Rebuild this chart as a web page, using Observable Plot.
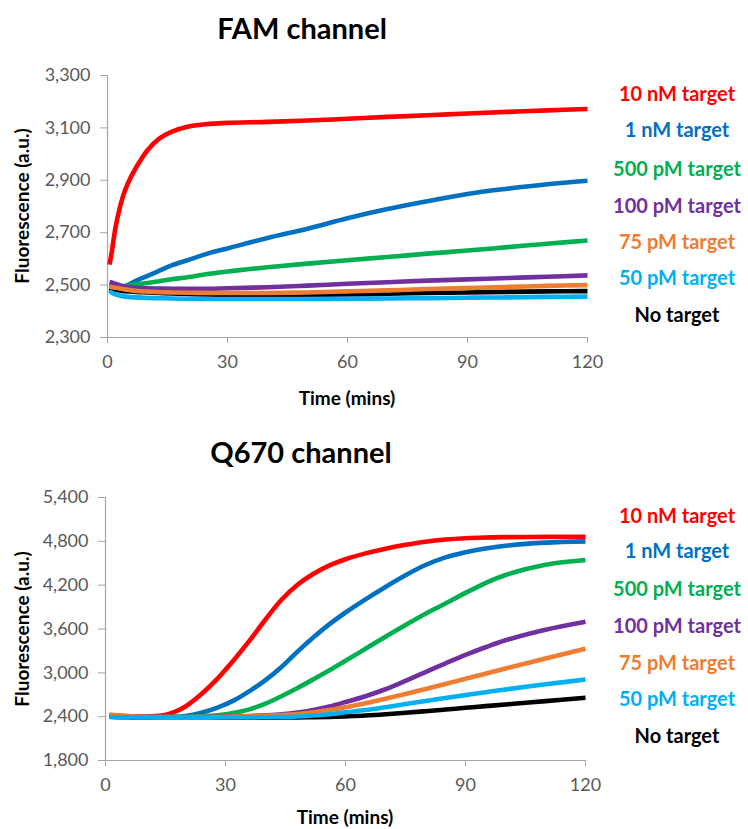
<!DOCTYPE html>
<html>
<head>
<meta charset="utf-8">
<script src="https://cdn.jsdelivr.net/npm/d3@7"></script>
<script src="https://cdn.jsdelivr.net/npm/@observablehq/plot@0.6"></script>
<style>
  html, body { margin: 0; padding: 0; background: #fff; }
  #page { position: relative; width: 748px; height: 829px; font-family: Lato, "Open Sans", sans-serif; overflow: hidden; }
  .abs { position: absolute; white-space: nowrap; line-height: 1; transform: translate(-50%, -50%); }
  .title { font-size: 29px; font-weight: bold; color: #000; }
  .axlab { font-size: 19px; font-weight: bold; color: #000; }
  .ylab { transform: translate(-50%, -50%) rotate(-90deg); }
  .leg { font-size: 20px; font-weight: bold; }
  .chart { position: absolute; left: 0; }
</style>
</head>
<body>
<div id="page"></div>
<script>
// ---------- shared ----------
const seriesNames = ["10 nM target", "1 nM target", "500 pM target", "100 pM target", "75 pM target", "50 pM target", "No target"];
const seriesColors = ["#ff0000", "#0070c0", "#00b050", "#7030a0", "#ed7d31", "#00b0f0", "#000000"];
const xTicks = [0, 30, 60, 90, 120];

// ---------- FAM channel (top) ----------
const famYTicks = [2300, 2500, 2700, 2900, 3100, 3300];
const famTimes = [0.5, 1, 2, 3, 4, 5, 7, 10, 13, 16, 20, 25, 30, 40, 50, 60, 70, 80, 90, 100, 110, 120];
const fam10nM  = [2578, 2620, 2720, 2790, 2845, 2885, 2945, 3015, 3060, 3085, 3104, 3115, 3119, 3123, 3128, 3135, 3142, 3148, 3155, 3161, 3167, 3172];
const fam1nM   = [2495, 2495, 2492, 2490, 2495, 2500, 2515, 2535, 2555, 2575, 2595, 2620, 2640, 2680, 2715, 2755, 2790, 2820, 2848, 2868, 2885, 2898];
const fam500pM = [2495, 2495, 2492, 2490, 2495, 2497, 2502, 2508, 2515, 2522, 2530, 2542, 2552, 2568, 2582, 2595, 2607, 2620, 2632, 2645, 2658, 2670];
const fam100pM = [2512, 2510, 2505, 2500, 2496, 2493, 2490, 2488, 2487, 2486, 2486, 2486, 2488, 2492, 2498, 2505, 2511, 2517, 2522, 2527, 2532, 2537];
const fam75pM  = [2494, 2493, 2490, 2487, 2484, 2482, 2478, 2475, 2473, 2472, 2471, 2470, 2470, 2470, 2472, 2476, 2480, 2485, 2489, 2493, 2497, 2500];
const fam50pM  = [2478, 2472, 2465, 2460, 2457, 2455, 2453, 2451, 2450, 2449, 2448, 2447, 2447, 2447, 2447, 2448, 2449, 2450, 2452, 2453, 2455, 2456];
const famNone  = [2488, 2485, 2482, 2479, 2477, 2476, 2474, 2472, 2470, 2468, 2466, 2464, 2463, 2462, 2462, 2464, 2467, 2470, 2472, 2474, 2476, 2477];

// ---------- Q670 channel (bottom) ----------
const qYTicks = [1800, 2400, 3000, 3600, 4200, 4800, 5400];
const qTimes = [1, 5, 10, 14, 17, 20, 24, 28, 32, 36, 40, 44, 48, 52, 56, 60, 65, 70, 75, 80, 85, 90, 95, 100, 110, 120];
const q10nM  = [2420, 2410, 2405, 2415, 2460, 2540, 2710, 2920, 3170, 3440, 3730, 4000, 4205, 4355, 4470, 4555, 4635, 4700, 4752, 4795, 4824, 4842, 4852, 4857, 4861, 4863];
const q1nM   = [2410, 2400, 2395, 2395, 2398, 2410, 2455, 2525, 2620, 2750, 2900, 3080, 3290, 3486, 3666, 3826, 4006, 4176, 4336, 4476, 4581, 4651, 4703, 4740, 4782, 4800];
const q500pM = [2410, 2400, 2395, 2395, 2395, 2398, 2405, 2420, 2450, 2500, 2580, 2680, 2792, 2912, 3036, 3164, 3329, 3494, 3654, 3809, 3949, 4094, 4229, 4339, 4479, 4544];
const q100pM = [2415, 2405, 2395, 2393, 2393, 2393, 2395, 2398, 2402, 2408, 2418, 2432, 2456, 2492, 2540, 2600, 2680, 2775, 2890, 3010, 3130, 3245, 3350, 3445, 3590, 3700];
const q75pM  = [2430, 2410, 2398, 2395, 2393, 2393, 2394, 2396, 2400, 2405, 2412, 2422, 2437, 2460, 2492, 2530, 2585, 2645, 2710, 2778, 2848, 2918, 2988, 3058, 3195, 3330];
const q50pM  = [2395, 2390, 2388, 2387, 2387, 2387, 2387, 2388, 2389, 2390, 2392, 2396, 2403, 2415, 2434, 2460, 2490, 2530, 2572, 2614, 2655, 2695, 2735, 2773, 2843, 2908];
const qNone  = [2400, 2392, 2388, 2386, 2385, 2385, 2385, 2385, 2385, 2386, 2387, 2388, 2390, 2393, 2397, 2404, 2415, 2432, 2453, 2475, 2498, 2521, 2544, 2567, 2613, 2658];

// long-format tables (draw order: No target first, 50 pM last)
const drawOrder = [6, 0, 1, 2, 3, 4, 5];
function buildTable(times, arrays) {
  const rows = [];
  for (const i of drawOrder) {
    arrays[i].forEach((v, j) => rows.push({t: times[j], v, series: seriesNames[i]}));
  }
  return rows;
}
const famData = buildTable(famTimes, [fam10nM, fam1nM, fam500pM, fam100pM, fam75pM, fam50pM, famNone]);
const qData = buildTable(qTimes, [q10nM, q1nM, q500pM, q100pM, q75pM, q50pM, qNone]);

const colorScale = {domain: seriesNames, range: seriesColors};
const axisGray = "#a6a6a6";
const tickText = "#595959";

function makeChart({data, yDomain, yTicks, height, marginTop, marginBottom, marginLeft, marginRight}) {
  return Plot.plot({
    width: 748,
    height, marginTop, marginBottom, marginLeft, marginRight,
    style: {fontFamily: "Lato, 'Open Sans', sans-serif", fontSize: "18px", color: tickText, background: "transparent", overflow: "visible"},
    x: {domain: [0, 120], label: null},
    y: {domain: yDomain, label: null},
    color: colorScale,
    marks: [
      Plot.axisX({ticks: xTicks, tickFormat: d => String(d), tickSize: 6, tickPadding: 12, stroke: axisGray, fill: tickText, label: null}),
      Plot.axisY({ticks: yTicks, tickFormat: d3.format(","), tickSize: 7, tickPadding: 10, stroke: axisGray, fill: tickText, label: null}),
      Plot.ruleX([0], {stroke: axisGray, strokeWidth: 1.2}),
      Plot.ruleY([yDomain[0]], {stroke: axisGray, strokeWidth: 1.2}),
      Plot.line(data, {x: "t", y: "v", z: "series", stroke: "series", strokeWidth: 4.6, curve: "catmull-rom", strokeLinejoin: "round", strokeLinecap: "butt"})
    ]
  });
}

const page = document.getElementById("page");
function addChart(svg, top) {
  svg.classList.add("chart");
  svg.style.top = top + "px";
  page.appendChild(svg);
}
function addText(text, cls, x, y, color) {
  const d = document.createElement("div");
  d.className = "abs " + cls;
  d.textContent = text;
  d.style.left = x + "px";
  d.style.top = y + "px";
  if (color) d.style.color = color;
  page.appendChild(d);
}

// Top chart
addChart(makeChart({data: famData, yDomain: [2300, 3300], yTicks: famYTicks, height: 375, marginTop: 30, marginBottom: 83, marginLeft: 107, marginRight: 161}), 45);
addText("FAM channel", "title", 302, 27);
addText("Fluorescence (a.u.)", "axlab ylab", 21, 206);
addText("Time (mins)", "axlab", 347, 397);
const famLegendY = [93, 129, 168, 205, 241, 277, 314];
seriesNames.forEach((s, i) => addText(s, "leg", 677, famLegendY[i], seriesColors[i]));

// Bottom chart
addChart(makeChart({data: qData, yDomain: [1800, 5400], yTicks: qYTicks, height: 359, marginTop: 27, marginBottom: 69, marginLeft: 105, marginRight: 163}), 470);
addText("Q670 channel", "title", 301, 451);
addText("Fluorescence (a.u.)", "axlab ylab", 21, 629);
addText("Time (mins)", "axlab", 345, 816);
const qLegendY = [515, 550, 588, 625, 662, 698, 735];
seriesNames.forEach((s, i) => addText(s, "leg", 677, qLegendY[i], seriesColors[i]));
</script>
</body>
</html>
